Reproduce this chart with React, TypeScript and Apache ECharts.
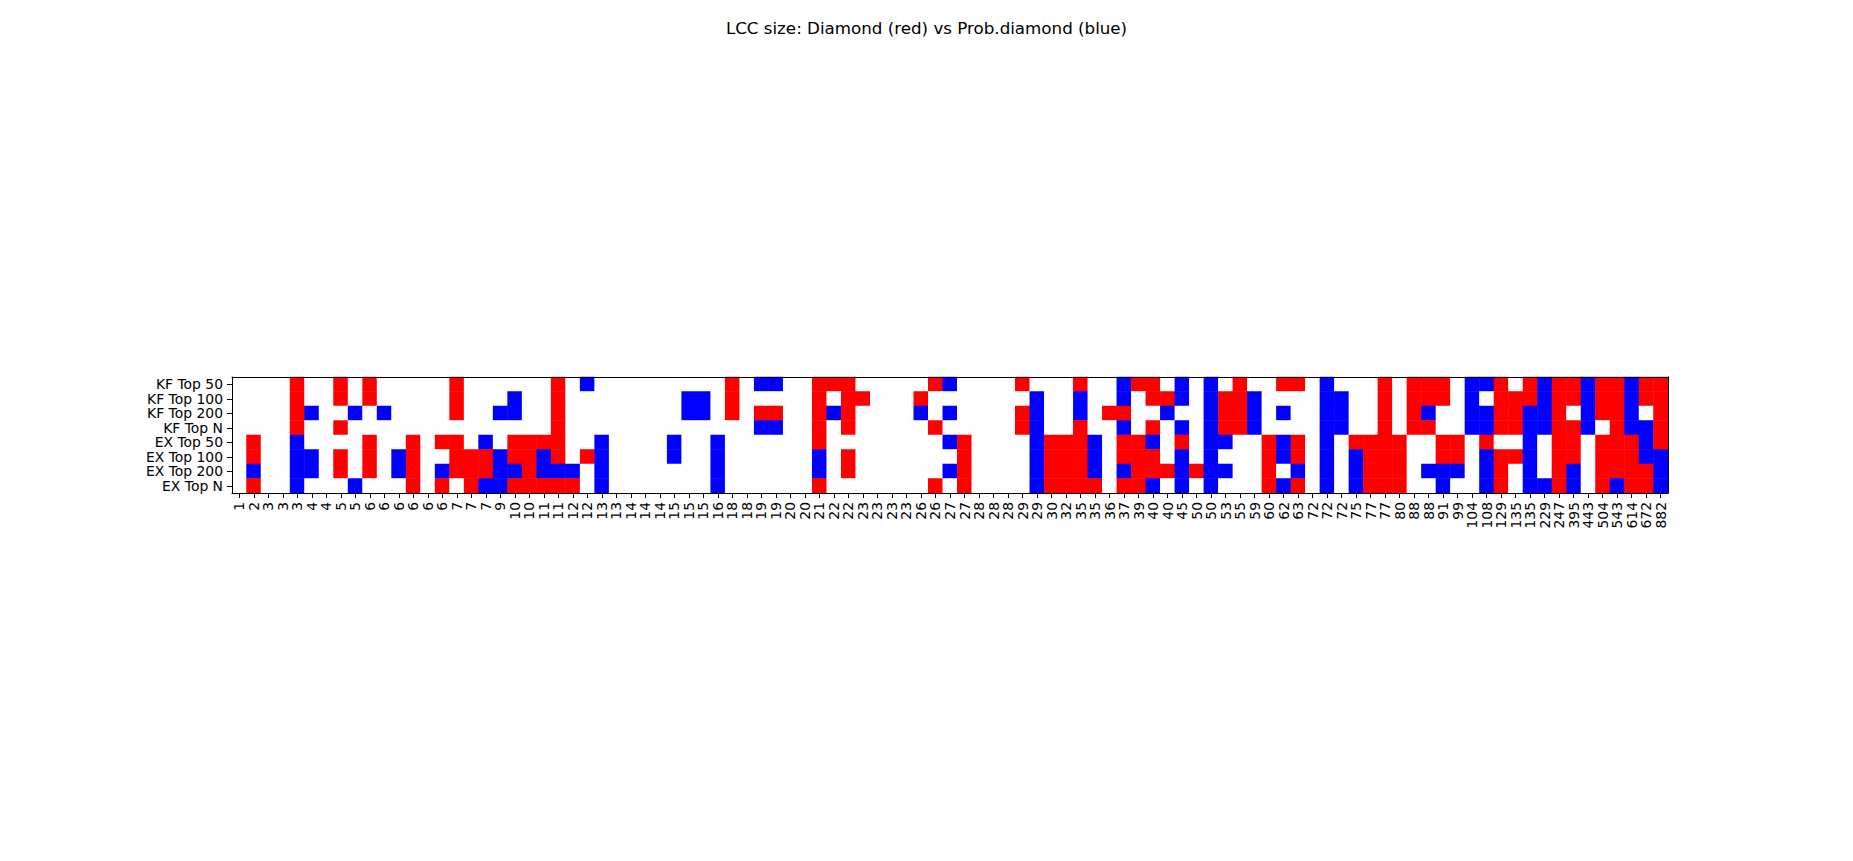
import React, { useEffect, useRef } from "react";
import * as echarts from "echarts";

// LCC sizes (column tick labels)
const xLabels = [
  1, 2, 3, 3, 3, 4, 4, 5, 5, 6, 6, 6, 6, 6, 6, 7, 7, 7, 9, 10,
  10, 11, 11, 12, 12, 13, 13, 14, 14, 14, 15, 15, 15, 16, 18, 18, 19, 19, 20, 20,
  21, 22, 22, 23, 23, 23, 23, 26, 26, 27, 27, 28, 28, 28, 29, 29, 30, 32, 35, 35,
  36, 37, 39, 40, 40, 45, 50, 50, 53, 55, 59, 60, 62, 63, 72, 72, 72, 75, 77, 77,
  80, 88, 88, 91, 99, 104, 108, 129, 135, 135, 229, 247, 395, 443, 504, 543, 614, 672, 882,
];

const yLabels = ["KF Top 50", "KF Top 100", "KF Top 200", "KF Top N", "EX Top 50", "EX Top 100", "EX Top 200", "EX Top N"];

// 0 = equal (white), 1 = Diamond larger (red), 2 = Prob.diamond larger (blue)
const kfTop50 = [0,0,0,0,1,0,0,1,0,1, 0,0,0,0,0,1,0,0,0,0, 0,0,1,0,2,0,0,0,0,0, 0,0,0,0,1,0,2,2,0,0, 1,1,1,0,0,0,0,0,1,2, 0,0,0,0,1,0,0,0,1,0, 0,2,1,1,0,2,0,2,0,1, 0,0,1,1,0,2,0,0,0,1, 0,1,1,1,0,2,2,1,0,1, 2,1,1,2,1,1,2,1,1];
const kfTop100 = [0,0,0,0,1,0,0,1,0,1, 0,0,0,0,0,1,0,0,0,2, 0,0,1,0,0,0,0,0,0,0, 0,2,2,0,1,0,0,0,0,0, 1,0,1,1,0,0,0,1,0,0, 0,0,0,0,0,2,0,0,2,0, 0,2,0,1,1,2,0,2,1,1, 2,0,0,0,0,2,2,0,0,1, 0,1,1,1,0,2,0,1,1,1, 2,1,1,2,1,1,2,1,1];
const kfTop200 = [0,0,0,0,1,2,0,0,2,0, 2,0,0,0,0,1,0,0,2,2, 0,0,1,0,0,0,0,0,0,0, 0,2,2,0,1,0,1,1,0,0, 1,2,1,0,0,0,0,2,0,2, 0,0,0,0,1,2,0,0,2,0, 1,1,0,0,2,0,0,2,1,1, 2,0,2,0,0,2,2,0,0,1, 0,1,2,0,0,2,2,1,1,2, 2,1,0,2,1,1,2,0,1];
const kfTopN = [0,0,0,0,1,0,0,1,0,0, 0,0,0,0,0,0,0,0,0,0, 0,0,1,0,0,0,0,0,0,0, 0,0,0,0,0,0,2,2,0,0, 1,0,1,0,0,0,0,0,1,0, 0,0,0,0,1,2,0,0,1,0, 0,2,0,1,0,2,0,2,1,1, 2,0,0,0,0,2,2,0,0,1, 0,1,1,0,0,2,2,1,1,2, 2,1,1,2,0,1,2,2,1];
const exTop50 = [0,1,0,0,2,0,0,0,0,1, 0,0,1,0,1,1,0,2,0,1, 1,1,1,0,0,2,0,0,0,0, 2,0,0,2,0,0,0,0,0,0, 1,0,0,0,0,0,0,0,0,2, 1,0,0,0,0,2,1,1,1,2, 0,1,1,2,0,1,0,2,2,0, 0,1,2,1,0,2,0,1,1,1, 1,0,0,1,1,0,1,0,0,2, 0,1,1,0,1,1,1,2,1];
const exTop100 = [0,1,0,0,2,2,0,1,0,1, 0,2,1,0,0,1,1,1,2,1, 1,2,1,0,1,2,0,0,0,0, 2,0,0,2,0,0,0,0,0,0, 2,0,1,0,0,0,0,0,0,0, 1,0,0,0,0,2,1,1,1,2, 0,1,1,1,0,2,0,2,0,0, 0,1,2,1,0,2,0,2,1,1, 1,0,0,1,1,0,2,1,1,2, 0,1,1,0,1,1,1,2,2];
const exTop200 = [0,2,0,0,2,2,0,1,0,1, 0,2,1,0,2,1,1,1,2,2, 1,2,2,2,0,2,0,0,0,0, 0,0,0,2,0,0,0,0,0,0, 2,0,1,0,0,0,0,0,0,2, 1,0,0,0,0,2,1,1,1,2, 0,2,1,1,1,2,1,2,2,0, 0,1,0,2,0,2,0,2,1,1, 1,0,2,2,2,0,2,1,0,2, 0,1,2,0,1,1,1,1,2];
const exTopN = [0,1,0,0,2,0,0,0,2,0, 0,0,1,0,1,0,1,2,2,1, 1,1,1,1,0,2,0,0,0,0, 0,0,0,2,0,0,0,0,0,0, 1,0,0,0,0,0,0,0,1,0, 1,0,0,0,0,2,1,1,1,1, 0,1,1,2,0,2,0,2,0,0, 0,1,2,1,0,2,0,2,1,1, 1,0,0,2,0,0,2,1,0,2, 2,1,2,0,1,2,1,1,2];

const rows = [kfTop50, kfTop100, kfTop200, kfTopN, exTop50, exTop100, exTop200, exTopN];

const FONT = "DejaVu Sans";

export default function App() {
  const ref = useRef<HTMLDivElement>(null);
  useEffect(() => {
    if (!ref.current) return;
    const chart = echarts.init(ref.current, null, { renderer: "svg" });
    const data: number[][] = [];
    rows.forEach((row, y) => row.forEach((v, x) => data.push([x, y, v])));
    const cats = xLabels.map(String);
    chart.setOption({
      animation: false,
      backgroundColor: "#ffffff",
      title: {
        text: "LCC size: Diamond (red) vs Prob.diamond (blue)",
        left: "center",
        top: 14,
        textStyle: { fontFamily: FONT, fontSize: 16.7, fontWeight: "normal", color: "#000" },
      },
      grid: { left: 232, top: 377, width: 1436, height: 116, containLabel: false },
      xAxis: [
        {
          type: "category",
          data: cats,
          position: "bottom",
          z: 10,
          axisLine: { show: true, lineStyle: { color: "#000", width: 1 } },
          axisTick: { show: true, interval: 0, alignWithLabel: true, length: 5, lineStyle: { color: "#000", width: 1 } },
          axisLabel: { interval: 0, rotate: 90, fontFamily: FONT, fontSize: 13.9, color: "#000", margin: 9 },
          splitLine: { show: false },
        },
        {
          type: "category",
          data: cats,
          position: "top",
          z: 10,
          axisLine: { show: true, onZero: false, lineStyle: { color: "#000", width: 1 } },
          axisTick: { show: false },
          axisLabel: { show: false },
          splitLine: { show: false },
        },
      ],
      yAxis: [
        {
          type: "category",
          data: yLabels,
          inverse: true,
          position: "left",
          z: 10,
          axisLine: { show: true, lineStyle: { color: "#000", width: 1 } },
          axisTick: { show: true, interval: 0, alignWithLabel: true, length: 5, lineStyle: { color: "#000", width: 1 } },
          axisLabel: { interval: 0, fontFamily: FONT, fontSize: 13.9, color: "#000", margin: 9 },
          splitLine: { show: false },
        },
        {
          type: "category",
          data: yLabels,
          inverse: true,
          position: "right",
          z: 10,
          axisLine: { show: true, onZero: false, lineStyle: { color: "#000", width: 1 } },
          axisTick: { show: false },
          axisLabel: { show: false },
          splitLine: { show: false },
        },
      ],
      visualMap: {
        type: "piecewise",
        show: false,
        dimension: 2,
        pieces: [
          { value: 0, color: "#fefefe" },
          { value: 1, color: "#ff0000" },
          { value: 2, color: "#0000ff" },
        ],
      },
      series: [
        {
          type: "heatmap",
          xAxisIndex: 0,
          yAxisIndex: 0,
          data,
          itemStyle: { borderWidth: 0 },
          emphasis: { disabled: true },
        },
      ],
    });
    return () => chart.dispose();
  }, []);
  return (
    <div
      ref={ref}
      style={{ position: "fixed", left: 0, top: 0, width: 1853, height: 861, background: "#fff" }}
    />
  );
}
